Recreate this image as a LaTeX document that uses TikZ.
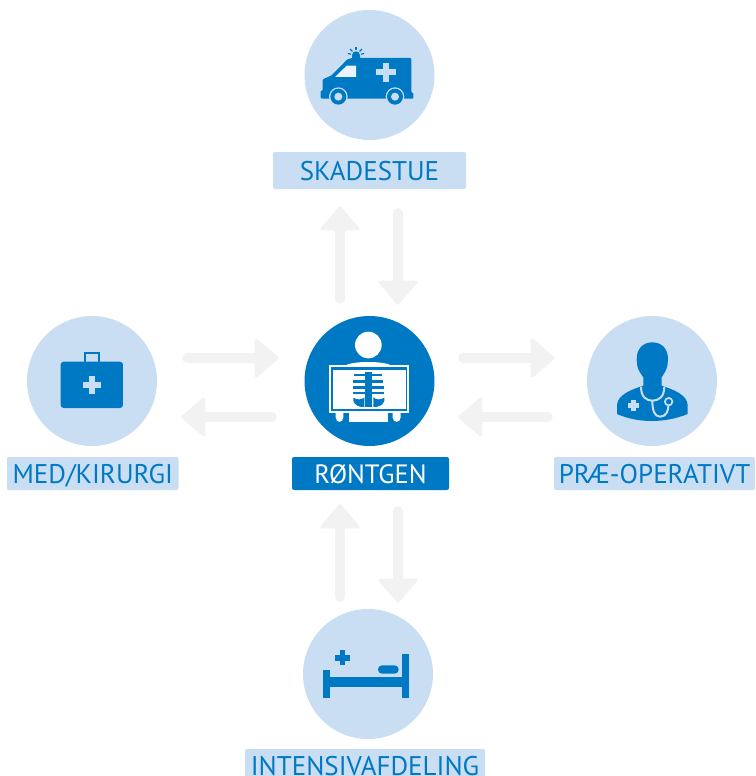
\documentclass[tikz,border=0pt]{standalone}
\usepackage{fontspec}
\setmainfont{PT Sans}
\usetikzlibrary{arrows.meta,calc}
\definecolor{mainblue}{HTML}{0079C4}
\definecolor{lightblue}{HTML}{C9DEF3}
\definecolor{arrowgray}{HTML}{F2F2F2}
\definecolor{windowwhite}{HTML}{EAF2FA}
\tikzset{
  x=1pt,y=-1pt,
  disc/.style={circle,fill=lightblue,minimum size=130pt,inner sep=0pt},
  maindisc/.style={disc,fill=mainblue},
  tag/.style={fill=lightblue,rounded corners=2pt,text=mainblue,font=\fontsize{27}{30}\selectfont,inner sep=0pt,anchor=center,text height=20.5pt,text depth=0pt},
  flow/.style={draw=arrowgray,line width=10pt,line cap=round,
    -{Triangle[length=25pt,width=42pt,round,line width=3pt,color=arrowgray,fill=arrowgray,sep=0pt]}},
  ico/.style={fill=mainblue,draw=none},
  icw/.style={fill=white,draw=none},
}
\begin{document}
\begin{tikzpicture}
\useasboundingbox (0,0) rectangle (755,776);
% discs
\node[disc] (top) at (369.5,75) {};
\node[maindisc] (mid) at (369.5,381) {};
\node[disc] (left) at (92,381) {};
\node[disc] (right) at (652,381) {};
\node[disc] (bot) at (368,674) {};
% labels
\node[tag,minimum width=193pt,minimum height=37pt] (ltop) at (369.5,170.5) {SKADESTUE};
\node[tag,minimum width=157pt,minimum height=33pt,fill=mainblue,text=white,font=\fontsize{26.5}{30}\selectfont] (lmid) at (370.5,473.5) {RØNTGEN};
\node[tag,minimum width=171.5pt,minimum height=33pt] (lleft) at (92.75,473.5) {MED/KIRURGI};
\node[tag,minimum width=201pt,minimum height=33pt] (lright) at (654.5,473.5) {PRÆ-OPERATIVT};
\node[tag,minimum width=240pt,minimum height=33pt] (lbot) at (365,765.5) {INTENSIVAFDELING};
% connectors
\draw[flow] ($(mid.north)+(-29.5,-17)$) -- ($(ltop.south)+(-29.5,17)$);
\draw[flow] ($(ltop.south)+(28.5,24)$) -- ($(mid.north)+(28.5,-11)$);
\draw[flow] ($(left.east)+(30,-23)$) -- ($(mid.west)+(-25.5,-23)$);
\draw[flow] ($(mid.west)+(-32.5,36)$) -- ($(left.east)+(24,36)$);
\draw[flow] ($(mid.east)+(28.5,-23)$) -- ($(right.west)+(-32,-23)$);
\draw[flow] ($(right.west)+(-39,36)$) -- ($(mid.east)+(23.5,36)$);
\draw[flow] ($(bot.north)+(-28,-12)$) -- ($(lmid.south)+(-30.5,14)$);
\draw[flow] ($(lmid.south)+(27.5,21)$) -- ($(bot.north)+(30,-6)$);
% ambulance
\begin{scope}[shift={(290,0)},scale=1/3]
\fill[ico,rounded corners=1pt] (92,296)--(92,272)--(98,272)--(98,238)--(125,226)--(172,178)--(186,174)--(364,174)--(364,278)--(370,278)--(370,296)--cycle;
\fill[windowwhite] (135,231)--(170,197)--(198,197)--(198,231)--cycle;
\fill[lightblue] (279,189) rectangle (297,246);
\fill[lightblue] (259,208) rectangle (317,226);
\fill[ico] (186,176) -- (186,166) .. controls (186,150) and (210,150) .. (210,166) -- (210,176) --cycle;
\foreach \a in {-90,-135,-45,-170,-10}{\draw[mainblue,line width=1.2pt] ($(198,165)+({\a}:15)$)--($(198,165)+({\a}:25)$);}
\foreach \c in {145,315}{
\fill[lightblue] (\c,290) circle[radius=28];
\fill[ico] (\c,290) circle[radius=24];
\fill[lightblue] (\c,290) circle[radius=12];}
\end{scope}
% x-ray
\begin{scope}[shift={(290,310)},scale=1/3]
\fill[icw] (235,105) circle[radius=40];
\fill[icw] (165,168) .. controls (180,152) and (290,152) .. (305,168) --cycle;
\fill[icw] (116,166) rectangle (358,310);
\fill[ico] (122,172) rectangle (352,304);
\fill[icw] (128,180) rectangle (347,297);
\fill[icw] (137,308) -- (137,322) .. controls (137,340) and (160,340) .. (160,322) -- (160,308) -- cycle;
\fill[icw] (177,308) rectangle (294,335);
\fill[icw] (308,308) -- (308,322) .. controls (308,340) and (332,340) .. (332,322) -- (332,308) -- cycle;
\fill[ico] (226,185) rectangle (246,290);
\fill[ico] (193,191) rectangle (277,198);
\fill[ico] (190,211) rectangle (280,218);
\fill[ico] (188,229) rectangle (283,236);
\fill[ico] (190,246) rectangle (283,253);
\fill[ico] (190,263) -- (190,272) .. controls (192,285) and (210,293) .. (223,291) -- (223,262) .. controls (215,270) and (200,270) .. (190,263) -- cycle;
\fill[ico] (283,263) -- (283,272) .. controls (281,285) and (263,293) .. (250,291) -- (250,262) .. controls (258,270) and (273,270) .. (283,263) -- cycle;
\end{scope}
% briefcase
\begin{scope}[shift={(0,310)},scale=1/3]
\fill[ico,rounded corners=3pt] (182,155) rectangle (369,294);
\draw[mainblue,line width=2.2pt] (254,155) -- (254,130) -- (298,130) -- (298,155);
\fill[lightblue] (266,198) rectangle (284,252);
\fill[lightblue] (248,216) rectangle (302,234);
\end{scope}
% doctor
\begin{scope}[shift={(575,310)},scale=1/3]
\fill[ico] (126,312) -- (126,285) .. controls (128,255) and (165,240) .. (205,227) -- (205,202) .. controls (198,192) and (190,182) .. (187,168) -- (185,150) .. controls (184,115) and (205,97) .. (232,97) .. controls (259,97) and (280,115) .. (279,150) -- (277,168) .. controls (274,182) and (266,192) .. (260,202) -- (260,227) .. controls (299,240) and (336,255) .. (338,285) -- (338,312) .. controls (270,340) and (190,340) .. (126,312) -- cycle;
\fill[lightblue] (168,271) rectangle (182,303);
\fill[lightblue] (159,280) rectangle (191,294);
\draw[lightblue,line width=2pt] (198,230) .. controls (198,262) and (215,272) .. (232,272) .. controls (250,272) and (268,262) .. (268,230);
\draw[lightblue,line width=2pt] (232,272) .. controls (232,300) and (238,320) .. (255,320) .. controls (275,320) and (280,300) .. (280,288);
\fill[lightblue] (281,275) circle[radius=14];
\fill[ico] (281,275) circle[radius=8];
\end{scope}
% bed
\begin{scope}[shift={(290,600)},scale=1/3]
\fill[ico] (99,209) rectangle (121,295);
\fill[ico] (336,162) rectangle (358,295);
\fill[ico] (121,230) rectangle (336,261);
\fill[ico,rounded corners=4pt] (264,196) rectangle (326,221);
\fill[ico] (149,151) rectangle (166,196);
\fill[ico] (135,165) rectangle (181,182);
\end{scope}
\end{tikzpicture}
\end{document}
